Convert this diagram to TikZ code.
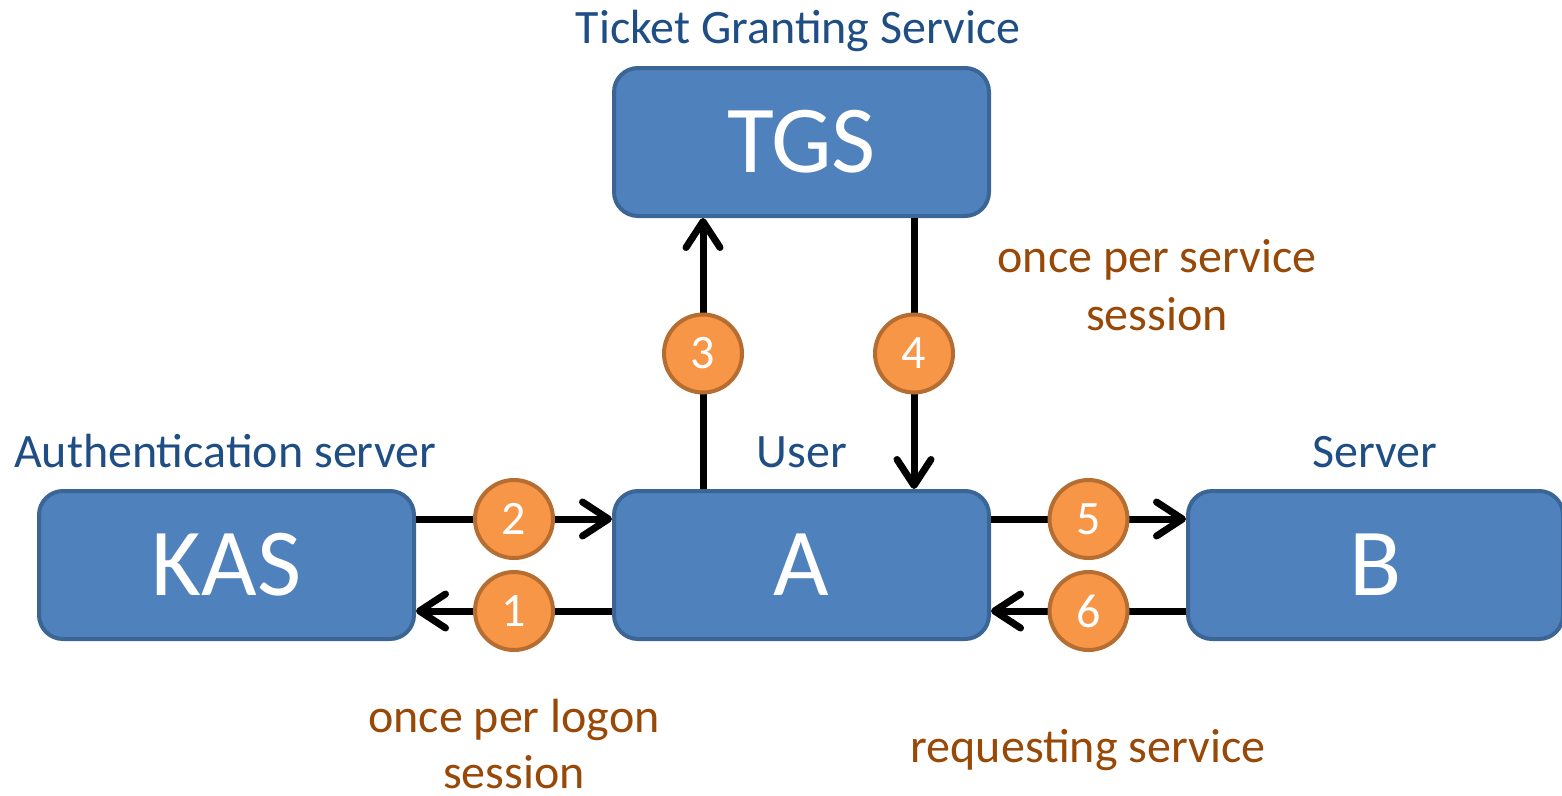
\documentclass[tikz,border=0pt]{standalone}
\usepackage{fontspec}
\setmainfont{Carlito}
\usetikzlibrary{arrows.meta}
\definecolor{boxfill}{HTML}{4F81BD}
\definecolor{boxline}{HTML}{3A6595}
\definecolor{numfill}{HTML}{F79646}
\definecolor{numline}{HTML}{B66D31}
\definecolor{lbl}{HTML}{1F4E85}
\definecolor{note}{HTML}{984807}
\tikzset{
  entity/.style={draw=boxline, fill=boxfill, line width=4pt, rounded corners=24pt,
    minimum width=375pt, minimum height=148pt, inner sep=0pt, text=white,
    font=\fontsize{96}{100}\selectfont},
  flow/.style={line width=7pt, -{Straight Barb[length=26pt,width=34pt,round]}},
  num/.style={circle, draw=numline, fill=numfill, line width=4pt, minimum size=78pt,
    inner sep=0pt, text=white, font=\fontsize{48}{48}\selectfont},
  caption/.style={text=lbl, font=\fontsize{48}{52}\selectfont, anchor=base},
  remark/.style={text=note, font=\fontsize{48}{58}\selectfont, align=center,
    anchor=base, inner sep=0pt},
}
\begin{document}
\begin{tikzpicture}[x=1pt,y=-1pt]
  \useasboundingbox (0,0) rectangle (1562,795);

  % principals
  \node[entity] (tgs) at (801.5,142) {TGS};
  \node[entity] (kas) at (226.5,565) {KAS};
  \node[entity] (a)   at (801.5,565) {A};
  \node[entity] (b)   at (1375.5,565) {B};

  % titles above the boxes
  \node[caption] (ttgs) at (798,43) {Ticket Granting Service};
  \node[caption] (tkas) at (225,467) {Authentication server};
  \node[caption] (ta)   at (802,467) {User};
  \node[caption] (tb)   at (1375,467) {Server};

  % message flows with their step numbers
  \draw[flow] ([yshift=-46pt]a.west) -- node[num] (n1) {1} ([yshift=-46pt]kas.east);
  \draw[flow] ([yshift=46pt]kas.east) -- node[num] (n2) {2} ([yshift=46pt]a.west);
  \draw[flow] ([xshift=-98.5pt]a.north) -- node[num] (n3) {3} ([xshift=-98.5pt]tgs.south);
  \draw[flow] ([xshift=112.5pt]tgs.south) -- node[num] (n4) {4} ([xshift=112.5pt]a.north);
  \draw[flow] ([yshift=46pt]a.east) -- node[num] (n5) {5} ([yshift=46pt]b.west);
  \draw[flow] ([yshift=-46pt]b.west) -- node[num] (n6) {6} ([yshift=-46pt]a.east);

  % frequency notes (base anchor sits on the last line)
  \node[remark] (r1) at (1157,330) {once per service\\session};
  \node[remark] (r2) at (514,788) {once per logon\\[-2pt]session};
  \node[remark] (r3) at (1088,762) {requesting service};
\end{tikzpicture}
\end{document}
